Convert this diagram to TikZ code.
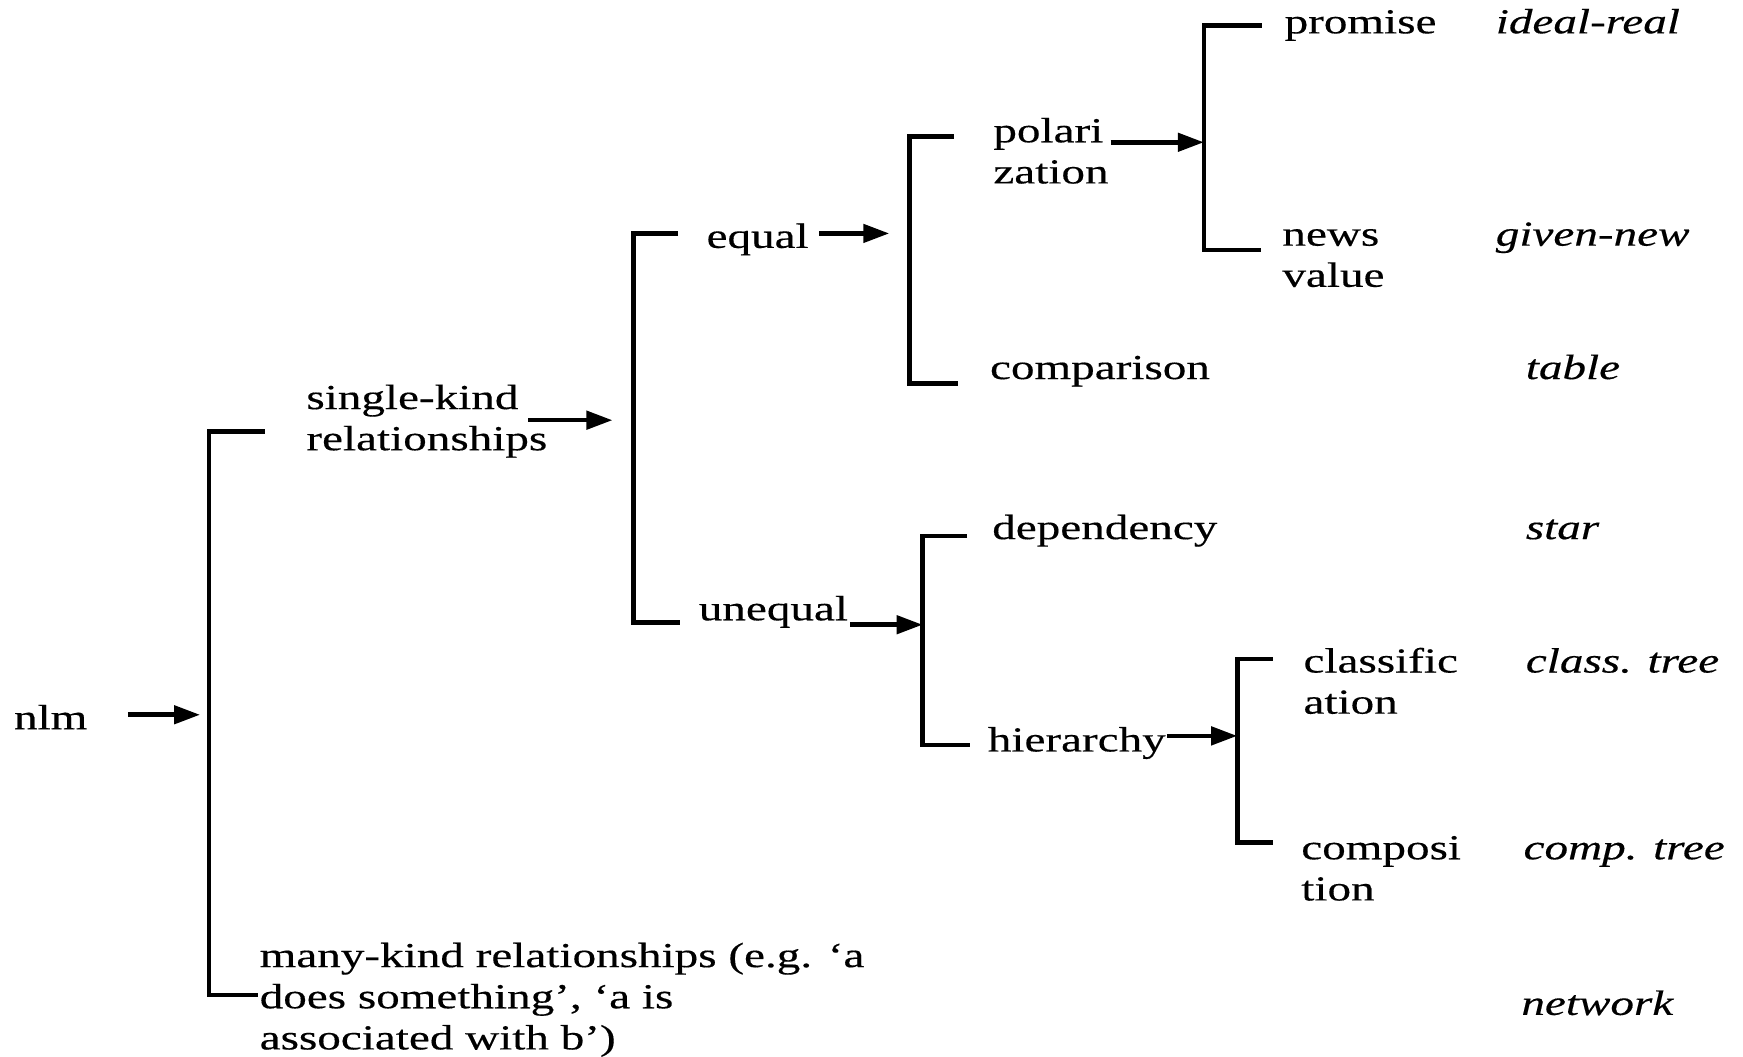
\documentclass[tikz,border=0pt]{standalone}
\usepackage{fontspec}
\setmainfont{Liberation Serif}[FakeStretch=1.34,FakeBold=0.35]
\usetikzlibrary{arrows.meta}
\begin{document}
\begin{tikzpicture}[x=0.011116cm,y=-0.011116cm,
  lbl/.style={anchor=base west,inner sep=0pt,font=\fontsize{10}{11.7}\selectfont},
  itl/.style={anchor=base west,inner sep=0pt,font=\fontsize{10}{11.7}\selectfont\itshape},
  brk/.style={line width=1.3pt},
  arr/.style={line width=1.3pt,-{Triangle[length=2.6mm,width=1.8mm]}}]
\useasboundingbox (0,0) rectangle (1568,950);
% labels
\node[lbl] (nlm) at (12,656) {nlm};
\node[lbl] (sk) at (275,368) {\begin{tabular}[t]{@{}l@{}}single-kind\\relationships\end{tabular}};
\node[lbl] (mk) at (233,870) {\begin{tabular}[t]{@{}l@{}}many-kind relationships (e.g. ‘a\\does something’, ‘a is\\associated with b’)\end{tabular}};
\node[lbl] (eq) at (635,223) {equal};
\node[lbl] (uneq) at (628,558) {unequal};
\node[lbl] (pol) at (893,128) {\begin{tabular}[t]{@{}l@{}}polari\\zation\end{tabular}};
\node[lbl] (comp) at (890,341) {comparison};
\node[lbl] (prom) at (1155,30) {promise};
\node[lbl] (news) at (1153,221) {\begin{tabular}[t]{@{}l@{}}news\\value\end{tabular}};
\node[lbl] (dep) at (892,485) {dependency};
\node[lbl] (hier) at (888,676) {hierarchy};
\node[lbl] (cls) at (1172,605) {\begin{tabular}[t]{@{}l@{}}classific\\ation\end{tabular}};
\node[lbl] (cmp) at (1170,773) {\begin{tabular}[t]{@{}l@{}}composi\\tion\end{tabular}};
\node[itl] (ir) at (1345,30) {ideal-real};
\node[itl] (gn) at (1345,221) {given-new};
\node[itl] (tab) at (1372,341) {table};
\node[itl] (star) at (1372,485) {star};
\node[itl] (ct) at (1372,605) {class. tree};
\node[itl] (cpt) at (1370,773) {comp. tree};
\node[itl] (net) at (1368,913) {network};
% bracket corners
\coordinate (b1ts) at (238,388); \coordinate (b1t) at (188,388);
\coordinate (b1b) at (188,895);  \coordinate (b1bs) at (232,895);
\coordinate (b2ts) at (610,210); \coordinate (b2t) at (570,210);
\coordinate (b2b) at (570,560);  \coordinate (b2bs) at (612,560);
\coordinate (b3ts) at (858,123); \coordinate (b3t) at (818,123);
\coordinate (b3b) at (818,345);  \coordinate (b3bs) at (862,345);
\coordinate (b4ts) at (1135,23); \coordinate (b4t) at (1083,23);
\coordinate (b4b) at (1083,225); \coordinate (b4bs) at (1134,225);
\coordinate (b5ts) at (870,482); \coordinate (b5t) at (830,482);
\coordinate (b5b) at (830,670);  \coordinate (b5bs) at (873,670);
\coordinate (b6ts) at (1145,593); \coordinate (b6t) at (1113,593);
\coordinate (b6b) at (1113,758);  \coordinate (b6bs) at (1145,758);
\draw[brk] (b1ts) -- (b1t) -- (b1b) -- (b1bs);
\draw[brk] (b2ts) -- (b2t) -- (b2b) -- (b2bs);
\draw[brk] (b3ts) -- (b3t) -- (b3b) -- (b3bs);
\draw[brk] (b4ts) -- (b4t) -- (b4b) -- (b4bs);
\draw[brk] (b5ts) -- (b5t) -- (b5b) -- (b5bs);
\draw[brk] (b6ts) -- (b6t) -- (b6b) -- (b6bs);
% arrows
\coordinate (a1s) at (115,643); \coordinate (a1e) at (180,643);
\coordinate (a2s) at (475,378); \coordinate (a2e) at (551,378);
\coordinate (a3s) at (737,210); \coordinate (a3e) at (800,210);
\coordinate (a4s) at (765,562); \coordinate (a4e) at (830,562);
\coordinate (a5s) at (999,128); \coordinate (a5e) at (1083,128);
\coordinate (a6s) at (1050,662); \coordinate (a6e) at (1113,662);
\draw[arr] (a1s) -- (a1e);
\draw[arr] (a2s) -- (a2e);
\draw[arr] (a3s) -- (a3e);
\draw[arr] (a4s) -- (a4e);
\draw[arr] (a5s) -- (a5e);
\draw[arr] (a6s) -- (a6e);
\end{tikzpicture}
\end{document}
